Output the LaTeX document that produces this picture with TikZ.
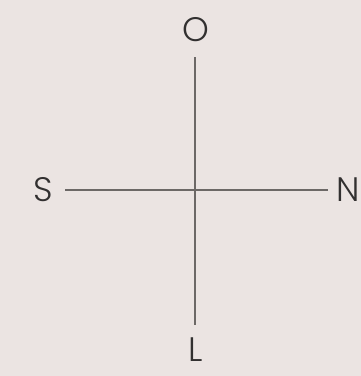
\documentclass[tikz,border=0pt]{standalone}
\usepackage{fontspec}
\setmainfont{Poppins Light}
\usetikzlibrary{math}
\definecolor{qback}{RGB}{235,228,226}
\definecolor{qline}{RGB}{108,104,102}
\definecolor{qtext}{RGB}{50,48,48}

\begin{document}
\begin{tikzpicture}[x=1pt,y=1pt]
\tikzmath{
\L=133;
\T=160;
}
\clip (-195,-186) rectangle (166,190);
\fill[qback] (-195,-186) rectangle (166,190);

\tikzset{
  axis/.style={color=qline, line width=1.4pt},
  compass/.style={color=qtext, font=\fontsize{34}{34}\selectfont, inner sep=0pt},
}

\coordinate (c) at (0,0);
\coordinate (o end) at (0,\L);
\coordinate (l end) at (0,-135);
\coordinate (s end) at (-130,0);
\coordinate (n end) at (\L,0);

\node[compass] (O) at (1,\T) {O};
\node[compass] (S) at (-152,0) {S};
\node[compass,anchor=east] (N) at (165.5,0) {N};
\node[compass] (L) at (1,-\T) {L};

\draw[axis] (c) -- (o end);
\draw[axis] (c) -- (l end);
\draw[axis] (c) -- (s end);
\draw[axis] (c) -- (n end);

\end{tikzpicture}
\end{document}
